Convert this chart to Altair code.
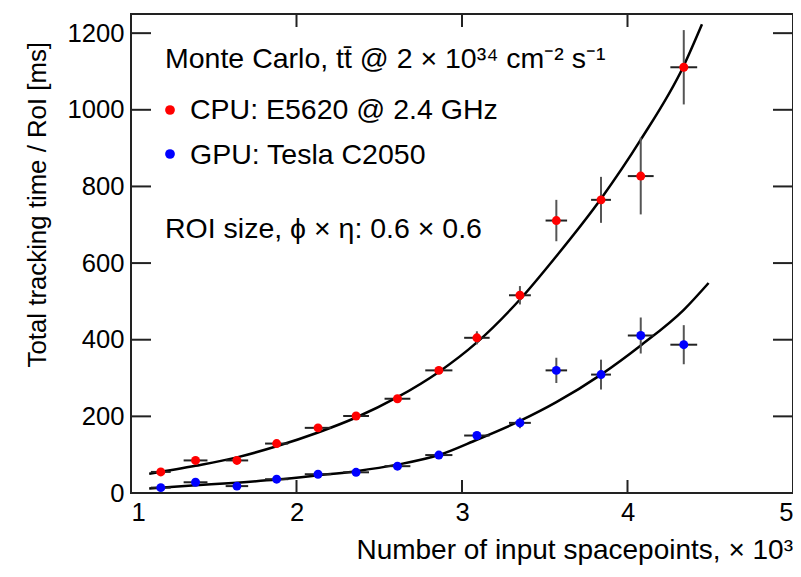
import altair as alt
import pandas as pd

# ---- data ----
x_bins = [1.18, 1.39, 1.64, 1.88, 2.13, 2.36, 2.61, 2.86, 3.09, 3.35, 3.57, 3.84, 4.08, 4.34]
x_err = [0.06, 0.072, 0.068, 0.07, 0.08, 0.078, 0.078, 0.082, 0.077, 0.066, 0.065, 0.06, 0.078, 0.081]
cpu_time = [55, 85, 85, 129, 170, 201, 246, 320, 405, 516, 711, 765, 827, 1111]
cpu_err = [4, 5, 5, 5, 6, 7, 8, 10, 17, 24, 54, 60, 100, 97]
gpu_time = [14, 28, 18, 36, 49, 54, 70, 99, 150, 183, 320, 309, 411, 387]
gpu_err = [2, 3, 3, 3, 4, 4, 5, 6, 8, 14, 33, 39, 47, 51]

cpu_fit_x = [1.11, 1.39, 1.64, 1.88, 2.13, 2.36, 2.61, 2.86, 3.09, 3.35, 3.57, 3.84, 4.08, 4.34, 4.45]
cpu_fit_y = [50, 71, 93, 122, 158, 197, 250, 316, 393, 505, 618, 768, 922, 1115, 1223]
gpu_fit_x = [1.11, 1.39, 1.64, 1.88, 2.13, 2.36, 2.61, 2.86, 3.09, 3.35, 3.57, 3.84, 4.08, 4.34, 4.49]
gpu_fit_y = [12, 20, 27, 35, 46, 57, 74, 99, 139, 188, 237, 309, 385, 478, 548]

x_ticks = [1, 2, 3, 4, 5]
y_ticks = [0, 200, 400, 600, 800, 1000, 1200]

# ---- tables ----
rows = []
for s, ys_, es in (("CPU", cpu_time, cpu_err), ("GPU", gpu_time, gpu_err)):
    for x, xe, y, ye in zip(x_bins, x_err, ys_, es):
        rows.append(dict(series=s, x=x, xlo=x - xe, xhi=x + xe, y=y, ylo=y - ye, yhi=y + ye))
pts = pd.DataFrame(rows)
fit = pd.DataFrame(
    [dict(series="CPU", x=a, y=b) for a, b in zip(cpu_fit_x, cpu_fit_y)]
    + [dict(series="GPU", x=a, y=b) for a, b in zip(gpu_fit_x, gpu_fit_y)]
)
xt = pd.DataFrame({"v": x_ticks})
yt = pd.DataFrame({"v": y_ticks})

W, H = 662, 479
FONT = "Liberation Sans"
xs = alt.Scale(domain=[1, 5], nice=False, zero=False)
ysc = alt.Scale(domain=[0, 1250], nice=False)
xax = alt.Axis(values=x_ticks, title=None, labelPadding=7, format="d")
yax = alt.Axis(values=y_ticks, title=None, labelPadding=7, format="d")

X = lambda f: alt.X(f, type="quantitative", scale=xs, axis=xax)
Y = lambda f: alt.Y(f, type="quantitative", scale=ysc, axis=yax)

vbar = alt.Chart(pts).mark_rule(color="#555555", strokeWidth=2).encode(
    x=X("x"), y=Y("ylo"), y2="yhi")
hbar = alt.Chart(pts).mark_rule(color="#222222", strokeWidth=2).encode(
    x=X("xlo"), x2="xhi", y=Y("y"))
lines = alt.Chart(fit).mark_line(color="black", strokeWidth=2.5, interpolate="monotone").encode(
    x=X("x"), y=Y("y"), detail="series:N")
color = alt.Color("series:N", scale=alt.Scale(domain=["CPU", "GPU"], range=["#ff0000", "#0000ff"]), legend=None)
dots = alt.Chart(pts).mark_circle(size=80, opacity=1).encode(x=X("x"), y=Y("y"), color=color)

tick_col = "#222222"
ytl = alt.Chart(yt).mark_rule(color=tick_col, strokeWidth=2).encode(y=Y("v"), x=alt.value(0), x2=alt.value(20))
ytr = alt.Chart(yt).mark_rule(color=tick_col, strokeWidth=2).encode(y=Y("v"), x=alt.value(W - 20), x2=alt.value(W))
xtb = alt.Chart(xt).mark_rule(color=tick_col, strokeWidth=2).encode(x=X("v"), y=alt.value(H - 13), y2=alt.value(H))
xtt = alt.Chart(xt).mark_rule(color=tick_col, strokeWidth=2).encode(x=X("v"), y=alt.value(0), y2=alt.value(13))


def txt(s, x, y, size, align="left", angle=0):
    kw = dict(text=s, font=FONT, fontSize=size, align=align, baseline="alphabetic", color="black")
    if angle:
        kw["angle"] = angle
    return alt.Chart(pd.DataFrame({"a": [0]})).mark_text(**kw).encode(x=alt.value(x), y=alt.value(y))


legend_size = 28.5
t1 = txt("Monte Carlo, tt\u0304 @ 2 \u00d7 10\u00b3\u2074 cm\u207b\u00b2 s\u207b\u00b9", 34, 54, legend_size)
t2 = txt("CPU: E5620 @ 2.4 GHz", 59, 105, legend_size)
t3 = txt("GPU: Tesla C2050", 59, 150, legend_size)
t4 = txt("ROI size, \u03d5 \u00d7 \u03b7: 0.6 \u00d7 0.6", 34, 224, legend_size)
ld_r = alt.Chart(pd.DataFrame({"a": [0]})).mark_circle(size=95, opacity=1, color="#ff0000").encode(
    x=alt.value(39), y=alt.value(96))
ld_b = alt.Chart(pd.DataFrame({"a": [0]})).mark_circle(size=95, opacity=1, color="#0000ff").encode(
    x=alt.value(39), y=alt.value(140))

xtitle = txt("Number of input spacepoints, \u00d7 10\u00b3", W, 545, 28, align="right")
ytitle = txt("Total tracking time / RoI [ms]", -85, 28, 25.8, align="right", angle=270)

chart = alt.layer(
    lines, vbar, hbar, dots, ytl, ytr, xtb, xtt, t1, t2, t3, t4, ld_r, ld_b, xtitle, ytitle
).properties(
    width=W, height=H,
    autosize=alt.AutoSizeParams(type="none"),
    padding={"left": 123, "top": 6, "right": 0, "bottom": 72},
).configure_view(
    stroke="#222222", strokeWidth=2
).configure_axis(
    domain=False, ticks=False, grid=False,
    labelFont=FONT, labelFontSize=25.6, labelColor="black",
)

chart.save("out.html", embed_options={"renderer": "svg", "actions": False})
